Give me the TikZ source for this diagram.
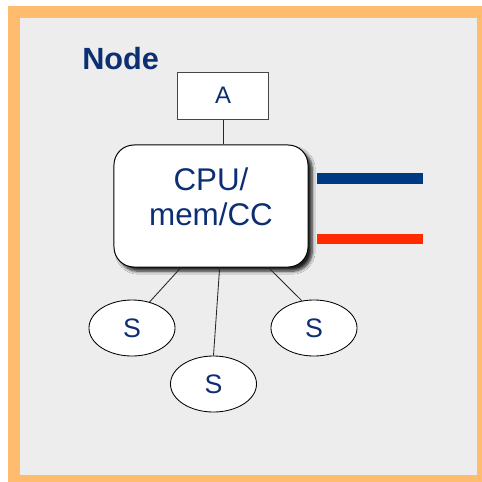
\documentclass[tikz,border=0pt]{standalone}
\usepackage{fontspec}
\setmainfont{Liberation Sans}
\usepackage{tikz}
\usetikzlibrary{positioning, shapes.geometric, shadows.blur}
\definecolor{nodeframe}{RGB}{255, 187, 110}
\definecolor{nodegray}{RGB}{237, 237, 237}
\definecolor{nodeblue}{RGB}{12, 46, 115}
\definecolor{busblue}{RGB}{0, 56, 130}
\definecolor{busred}{RGB}{255, 42, 0}
\definecolor{edgegray}{RGB}{70, 70, 70}

\begin{document}
\begin{tikzpicture}[x=0.025cm, y=-0.025cm,
    unitbox/.style={draw=edgegray, fill=white, line width=0.7pt, inner sep=0pt},
    sensor/.style={ellipse, draw=black, fill=white, line width=0.6pt, inner sep=0pt,
        minimum width=2.15cm, minimum height=1.4cm, text=nodeblue, font=\fontsize{19}{22}\selectfont},
    link/.style={draw=black!85, line width=0.6pt},
    bus/.style={line width=7.8pt}]
        \useasboundingbox (0,0) rectangle (482,482);

        % Frame
        \fill[nodeframe] (8,6) rectangle (482,482);
        \fill[nodegray] (20,18) rectangle (477,475);
        \node[anchor=base west, inner sep=0pt, text=nodeblue, font=\bfseries\fontsize{21.8}{24}\selectfont]
            (title) at (82,69) {Node};

        % Processor with attached unit
        \node[unitbox, minimum width=2.25cm, minimum height=1.175cm, text=nodeblue,
            font=\fontsize{17}{20}\selectfont] (a) at (223,95.5) {A};
        \node[unitbox, draw=black, rounded corners=0.5cm, minimum width=4.85cm, minimum height=3.05cm,
            align=center, text=nodeblue, text depth=14pt, font=\fontsize{22.3}{24.9}\selectfont,
            blur shadow={shadow xshift=3pt, shadow yshift=-3pt, shadow blur steps=8, shadow opacity=85}]
            (cpu) at (211,206) {CPU/\\mem/CC};
        \draw[link] (a.south) -- (cpu.north -| a.south);

        % Buses
        \coordinate (blueL) at (317,178.5);
        \coordinate (blueR) at (423,178.5);
        \coordinate (redL) at (317,239);
        \coordinate (redR) at (423,239);
        \draw[bus, busblue] (blueL) -- (blueR);
        \draw[bus, busred] (redL) -- (redR);

        % Storage
        \node[sensor] (s1) at (132,328) {S};
        \node[sensor] (s2) at (314,328) {S};
        \node[sensor] (s3) at (213.5,384) {S};
        \draw[link] (cpu.-116) -- (s1.56);
        \draw[link] (cpu.-82.5) -- (s3.north);
        \draw[link] (cpu.-47) -- (s2.114);
    \end{tikzpicture}
\end{document}
